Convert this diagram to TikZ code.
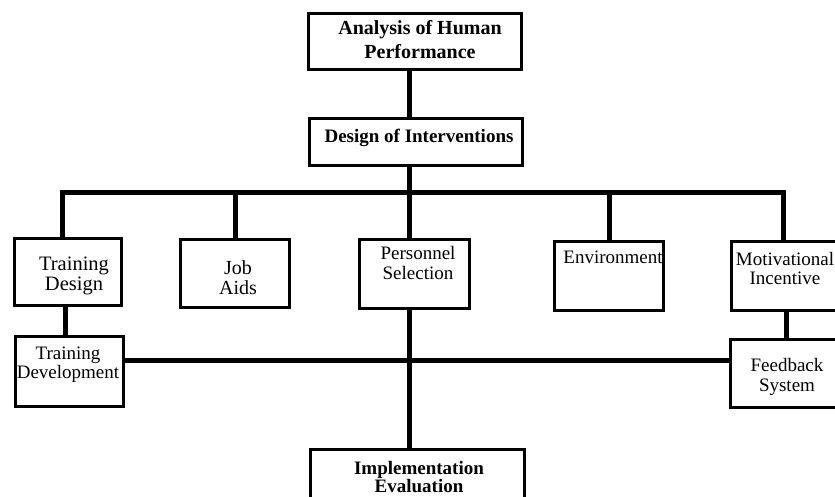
\documentclass[tikz,border=0pt]{standalone}
\usepackage{fontspec}
\setmainfont{Liberation Serif}
\begin{document}
\begin{tikzpicture}[x=1pt,y=-1pt,
  box/.style={draw, line width=3pt, inner sep=0pt},
  conn/.style={line width=5pt},
  txt/.style={align=center, inner sep=0pt, font=\fontsize{19}{20}\selectfont},
  btxt/.style={align=center, inner sep=0pt, font=\fontsize{19}{24}\selectfont\bfseries},
]
\useasboundingbox (0,0) rectangle (835,497);
\fill[white] (0,0) rectangle (835,497);
\begin{scope}
\clip (0,0) rectangle (835,497);

% boxes
\node[box, minimum width=213pt, minimum height=56pt] (top)    at (415,41.5)  {};
\node[box, minimum width=213pt, minimum height=47pt] (design) at (416,142)   {};
\node[box, minimum width=107pt, minimum height=67pt] (td)     at (68,272)    {};
\node[box, minimum width=109pt, minimum height=68pt] (ja)     at (235,273.5) {};
\node[box, minimum width=110pt, minimum height=69pt] (ps)     at (414.5,274) {};
\node[box, minimum width=109pt, minimum height=69pt] (env)    at (609,276)   {};
\node[box, minimum width=109pt, minimum height=69pt] (mi)     at (786,276)   {};
\node[box, minimum width=108pt, minimum height=70pt] (tdev)   at (69.5,371.5){};
\node[box, minimum width=110pt, minimum height=68pt] (fb)     at (785,373.5) {};
\node[box, minimum width=214pt, minimum height=71pt] (impl)   at (417.5,485) {};

% labels
\node[btxt, font=\fontsize{20}{24}\selectfont\bfseries] (topt) at (420,40) {Analysis of Human\\Performance};
\node[btxt] (designt) at (419,138) {Design of Interventions};
\node[txt, font=\fontsize{20.5}{20}\selectfont] (tdt) at (74,275.5) {Training\\Design};
\node[txt, font=\fontsize{20}{20}\selectfont] (jat) at (238,277.5) {Job\\Aids};
\node[txt] (pst) at (418,263.5) {Personnel\\Selection};
\node[txt] (envt) at (613,257) {Environment};
\node[txt, font=\fontsize{19}{19}\selectfont] (mit) at (785,269) {Motivational\\Incentive};
\node[txt, font=\fontsize{19}{18.5}\selectfont] (tdevt) at (68,364.5) {Training\\Development};
\node[txt] (fbt) at (787,377) {Feedback\\System};
\node[btxt, font=\fontsize{19}{18.5}\selectfont\bfseries] (implt) at (419,477) {Implementation\\Evaluation};

% connectors
\coordinate (spine) at (409.5,0);
\coordinate (bus) at (409.5,193);
\coordinate (rail) at (0,360);
\draw[conn] (top.south -| spine) -- (design.north -| spine);
\draw[conn] (design.south -| spine) -- (bus);
\draw[conn] ([xshift=-6pt]td.north) |- (bus) -| ([xshift=-3pt]mi.north);
\draw[conn] (ja.north) -- (ja.north |- bus);
\draw[conn] (ps.north -| spine) -- (bus);
\draw[conn] (env.north) -- (env.north |- bus);
\draw[conn] ([xshift=-3pt]td.south) -- ([xshift=-3pt]td.south |- tdev.north);
\draw[conn] (mi.south) -- (mi.south |- fb.north);
\draw[conn] (tdev.east |- rail) -- (fb.west |- rail);
\draw[conn] (ps.south -| spine) -- (impl.north -| spine);
\end{scope}
\end{tikzpicture}
\end{document}
